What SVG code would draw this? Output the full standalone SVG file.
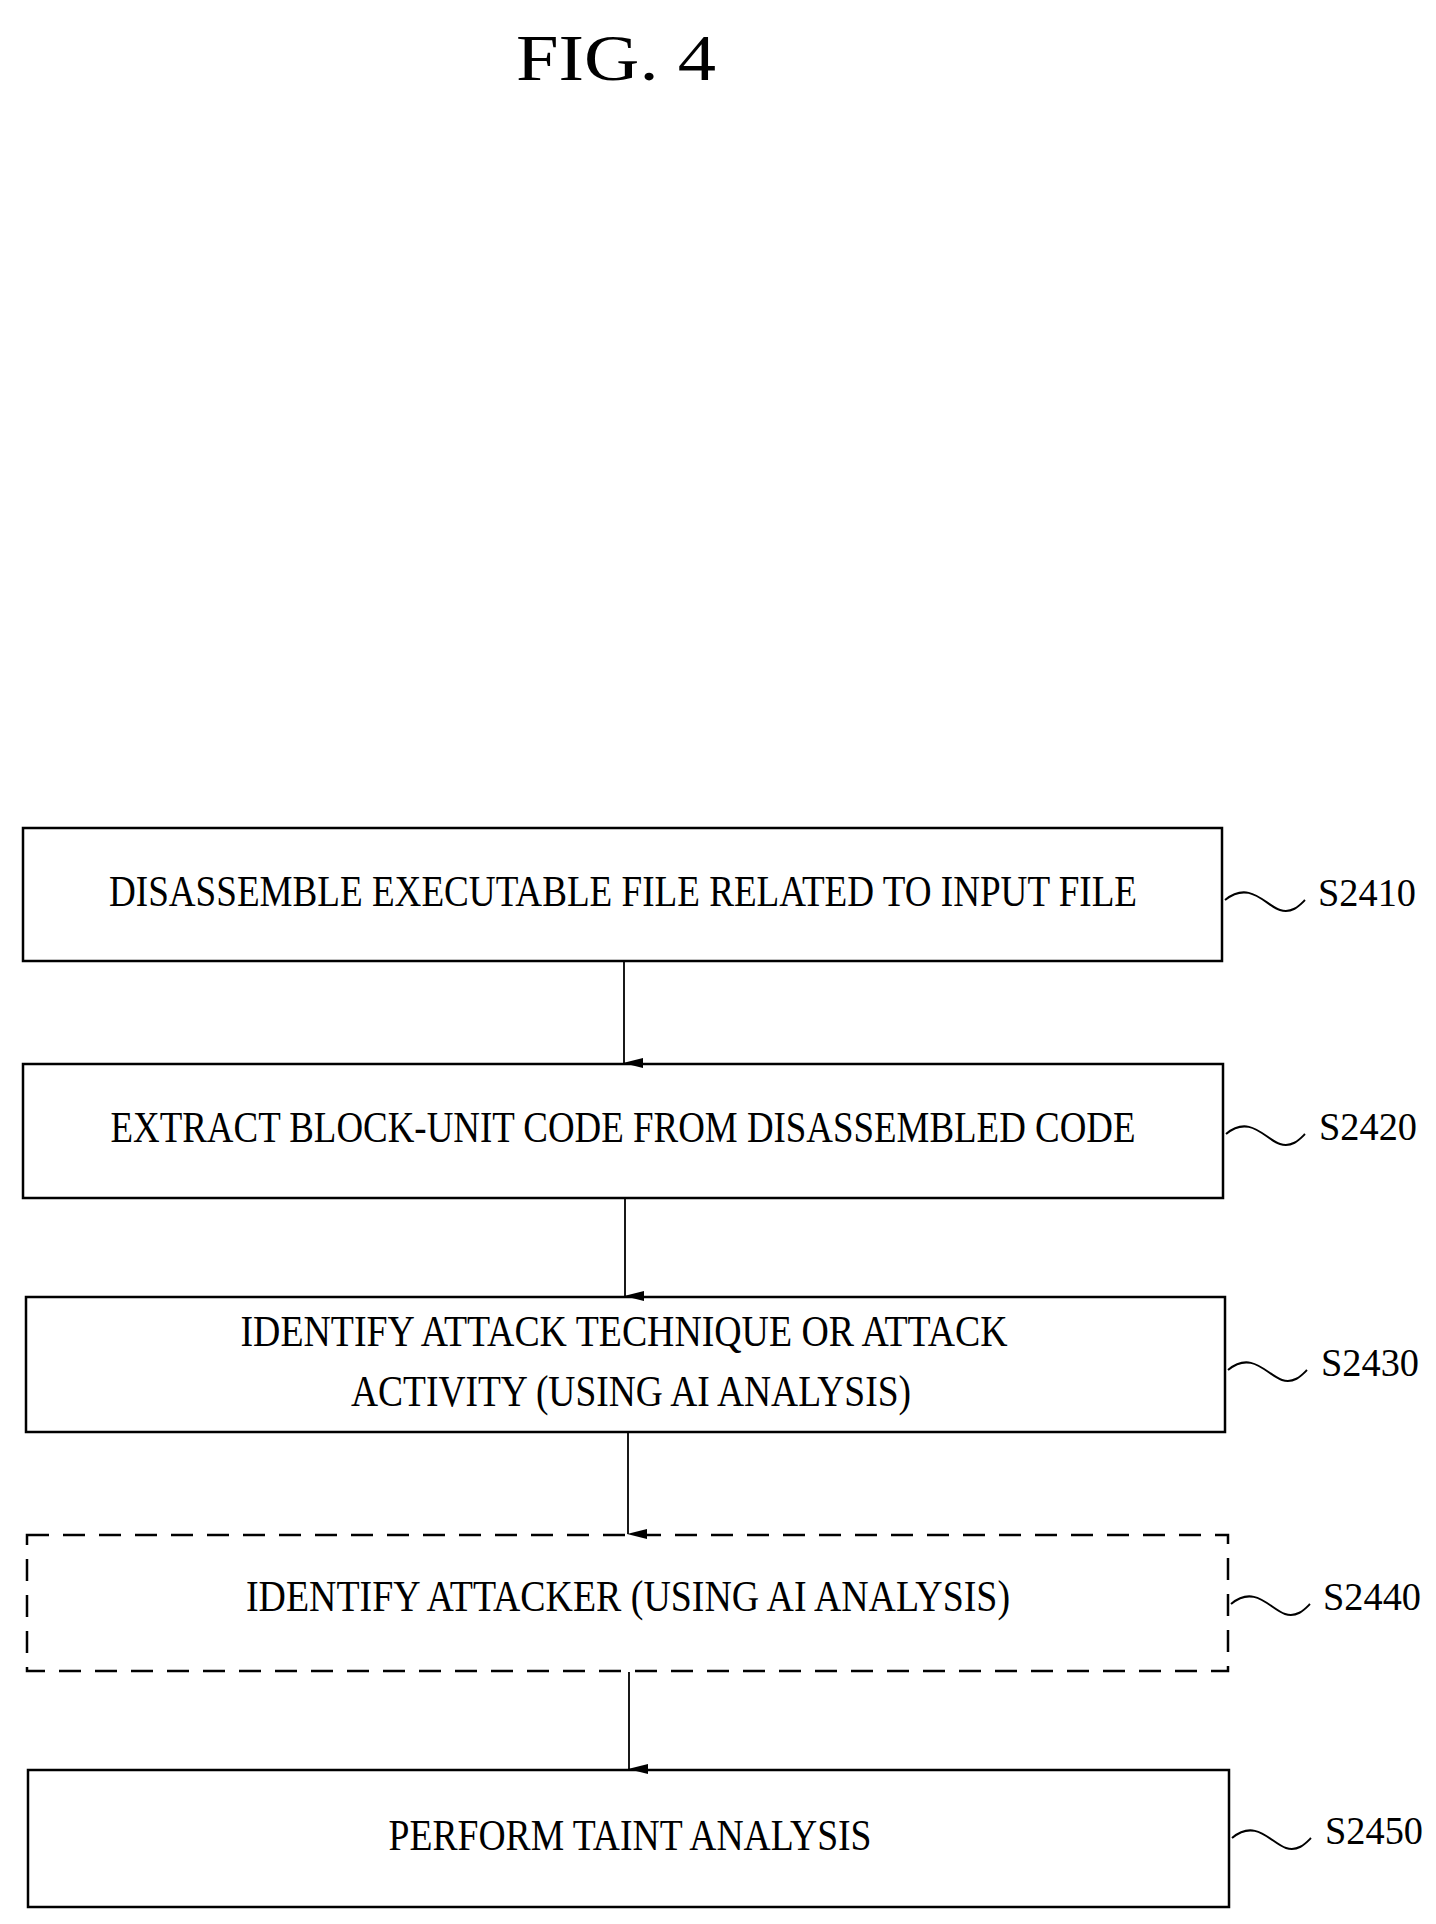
<svg xmlns="http://www.w3.org/2000/svg" width="1436" height="1924" viewBox="0 0 1436 1924">
<style>
.b{fill:none;stroke:#000;stroke-width:2.5}
.d{stroke-dasharray:22,14}
.t{font-family:"Liberation Serif",serif;font-size:44px;fill:#000;text-anchor:middle}
.l{font-family:"Liberation Serif",serif;font-size:40px;fill:#000}
.c{stroke:#000;stroke-width:1.8;fill:none}
.s{stroke:#000;stroke-width:2;fill:none}
</style>
<defs><marker id="a" markerWidth="12" markerHeight="20" refX="6" refY="19" orient="auto" markerUnits="userSpaceOnUse"><path d="M1,0 L6,20 L11,0 Z" fill="#000"/></marker></defs>
<rect width="1436" height="1924" fill="#fff"/>
<text x="616" y="80" style="font-family:'Liberation Serif',serif;font-size:66px" text-anchor="middle" textLength="200" lengthAdjust="spacingAndGlyphs">FIG.  4</text>
<g id="n1"><rect class="b" x="23" y="828" width="1199" height="133"/><text class="t" x="623" y="906" textLength="1028" lengthAdjust="spacingAndGlyphs">DISASSEMBLE EXECUTABLE FILE RELATED TO INPUT FILE</text><path class="s" d="M1225,900 C1250,880 1265,905 1280,910 C1292,914 1300,905 1305,900"/><text class="l" x="1318" y="906" textLength="98" lengthAdjust="spacingAndGlyphs">S2410</text></g>
<g id="n2"><rect class="b" x="23" y="1064" width="1200" height="134"/><text class="t" x="623" y="1142" textLength="1025" lengthAdjust="spacingAndGlyphs">EXTRACT BLOCK-UNIT CODE FROM DISASSEMBLED CODE</text><path class="s" d="M1226,1134 C1250,1114 1265,1139 1280,1144 C1292,1148 1300,1139 1305,1134"/><text class="l" x="1319" y="1140" textLength="98" lengthAdjust="spacingAndGlyphs">S2420</text></g>
<g id="n3"><rect class="b" x="26" y="1297" width="1199" height="135"/><text class="t" x="624" y="1346" textLength="767" lengthAdjust="spacingAndGlyphs">IDENTIFY ATTACK TECHNIQUE OR ATTACK</text><text class="t" x="631" y="1406" textLength="560" lengthAdjust="spacingAndGlyphs">ACTIVITY (USING AI ANALYSIS)</text><path class="s" d="M1228,1370 C1252,1350 1267,1375 1282,1380 C1294,1384 1302,1375 1307,1370"/><text class="l" x="1321" y="1376" textLength="98" lengthAdjust="spacingAndGlyphs">S2430</text></g>
<g id="n4"><rect class="b d" x="27" y="1535" width="1201" height="136"/><text class="t" x="628" y="1611" textLength="764" lengthAdjust="spacingAndGlyphs">IDENTIFY ATTACKER (USING AI ANALYSIS)</text><path class="s" d="M1231,1604 C1255,1584 1270,1609 1285,1614 C1297,1618 1305,1609 1310,1604"/><text class="l" x="1323" y="1610" textLength="98" lengthAdjust="spacingAndGlyphs">S2440</text></g>
<g id="n5"><rect class="b" x="28" y="1770" width="1201" height="137"/><text class="t" x="630" y="1850" textLength="483" lengthAdjust="spacingAndGlyphs">PERFORM TAINT ANALYSIS</text><path class="s" d="M1232,1838 C1256,1818 1271,1843 1286,1848 C1298,1852 1306,1843 1311,1838"/><text class="l" x="1325" y="1844" textLength="98" lengthAdjust="spacingAndGlyphs">S2450</text></g>
<g id="connectors">
<line class="c" x1="624" y1="962" x2="624" y2="1063" marker-end="url(#a)"/>
<line class="c" x1="625" y1="1199" x2="625" y2="1296" marker-end="url(#a)"/>
<line class="c" x1="628" y1="1433" x2="628" y2="1534" marker-end="url(#a)"/>
<line class="c" x1="629" y1="1672" x2="629" y2="1769" marker-end="url(#a)"/>
</g>
</svg>
